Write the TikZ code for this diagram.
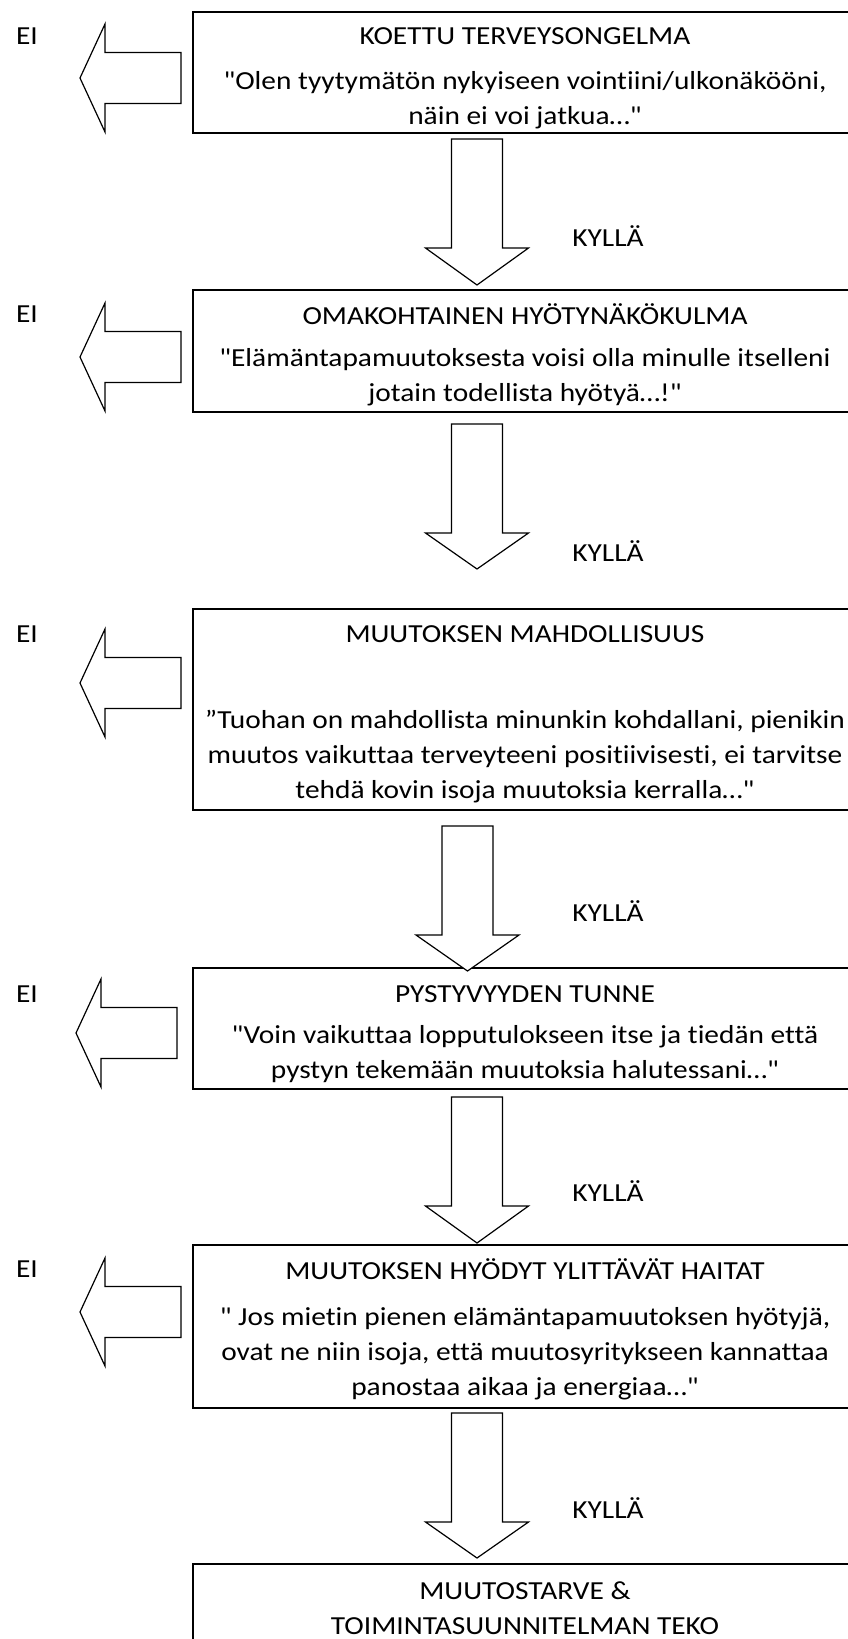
\documentclass[tikz,border=0pt]{standalone}
\usepackage{fontspec}
\setmainfont{Carlito}[Ligatures={TeXOff,NoCommon}, FakeStretch=1.13]
\usepackage{tikz}

\tikzset{
    laatikko/.style={draw, line width=2.2pt, minimum width=680pt, anchor=north west, inner sep=0pt},
    teksti/.style={font=\fontsize{26}{35}\selectfont, align=center, inner sep=0pt},
    nuoli/.style={draw, line width=1.2pt, line join=miter, fill=white}
}

\begin{document}
\begin{tikzpicture}[x=1pt, y=-1pt]
    % Kuvan rajat
    \useasboundingbox (0,0) rectangle (848,1639);
    \clip (0,0) rectangle (848,1639);

    % Laatikot
    \node[laatikko, minimum height=121pt] (b1) at (192,11) {};
    \node[laatikko, minimum height=122pt] (b2) at (192,289) {};
    \node[laatikko, minimum height=201pt] (b3) at (192,608) {};
    \node[laatikko, minimum height=121pt] (b4) at (192,967) {};
    \node[laatikko, minimum height=163pt] (b5) at (192,1244) {};
    \node[laatikko, minimum height=120pt] (b6) at (192,1563) {};

    % Otsikot ja lainaukset
    \node[teksti] (o1) at (525,36) {KOETTU TERVEYSONGELMA};
    \node[teksti] (l1) at (525,100) {"Olen tyytymätön nykyiseen vointiini/ulkonäkööni,\\näin ei voi jatkua…"};
    \node[teksti] (o2) at (525,314) {OMAKOHTAINEN HYÖTYNÄKÖKULMA};
    \node[teksti] (l2) at (525,377) {"Elämäntapamuutoksesta voisi olla minulle itselleni\\jotain todellista hyötyä…!"};
    \node[teksti] (o3) at (525,634) {MUUTOKSEN MAHDOLLISUUS};
    \node[teksti] (l3) at (525,757) {”Tuohan on mahdollista minunkin kohdallani, pienikin\\muutos vaikuttaa terveyteeni positiivisesti, ei tarvitse\\tehdä kovin isoja muutoksia kerralla…"};
    \node[teksti] (o4) at (525,994) {PYSTYVYYDEN TUNNE};
    \node[teksti] (l4) at (525,1054) {"Voin vaikuttaa lopputulokseen itse ja tiedän että\\pystyn tekemään muutoksia halutessani…"};
    \node[teksti] (o5) at (525,1269) {MUUTOKSEN HYÖDYT YLITTÄVÄT HAITAT};
    \node[teksti] (l5) at (525,1354) {" Jos mietin pienen elämäntapamuutoksen hyötyjä,\\ovat ne niin isoja, että muutosyritykseen kannattaa\\panostaa aikaa ja energiaa…"};
    \node[teksti] (o6) at (525,1608) {MUUTOSTARVE \&\\TOIMINTASUUNNITELMAN TEKO};

    % EI-nuolet vasemmalle
    \foreach \tx/\cy [count=\i] in {80/78, 80/357, 80/683, 76/1033, 80/1312} {
        \draw[nuoli] (\tx,\cy) -- (\tx+25,\cy-54) -- (\tx+25,\cy-25.5) -- (\tx+101,\cy-25.5)
            -- (\tx+101,\cy+25.5) -- (\tx+25,\cy+25.5) -- (\tx+25,\cy+54) -- cycle;
    }
    \foreach \cy [count=\i] in {36, 314, 634, 994, 1269}
        \node[teksti] (ei\i) at (27,\cy) {EI};

    % KYLLÄ-nuolet alas
    \foreach \cx/\yt/\yh/\yk [count=\i] in {477/139/248/285, 477/424/533/569, 467.5/826/935/971, 477/1097/1206/1243, 477/1413/1522/1558} {
        \draw[nuoli] (\cx-25.5,\yt) -- (\cx+25.5,\yt) -- (\cx+25.5,\yh) -- (\cx+51.5,\yh)
            -- (\cx,\yk) -- (\cx-51.5,\yh) -- (\cx-25.5,\yh) -- cycle;
    }
    \foreach \cy [count=\i] in {236, 551, 911, 1191, 1508}
        \node[teksti] (kylla\i) at (608,\cy) {KYLLÄ};
\end{tikzpicture}
\end{document}
